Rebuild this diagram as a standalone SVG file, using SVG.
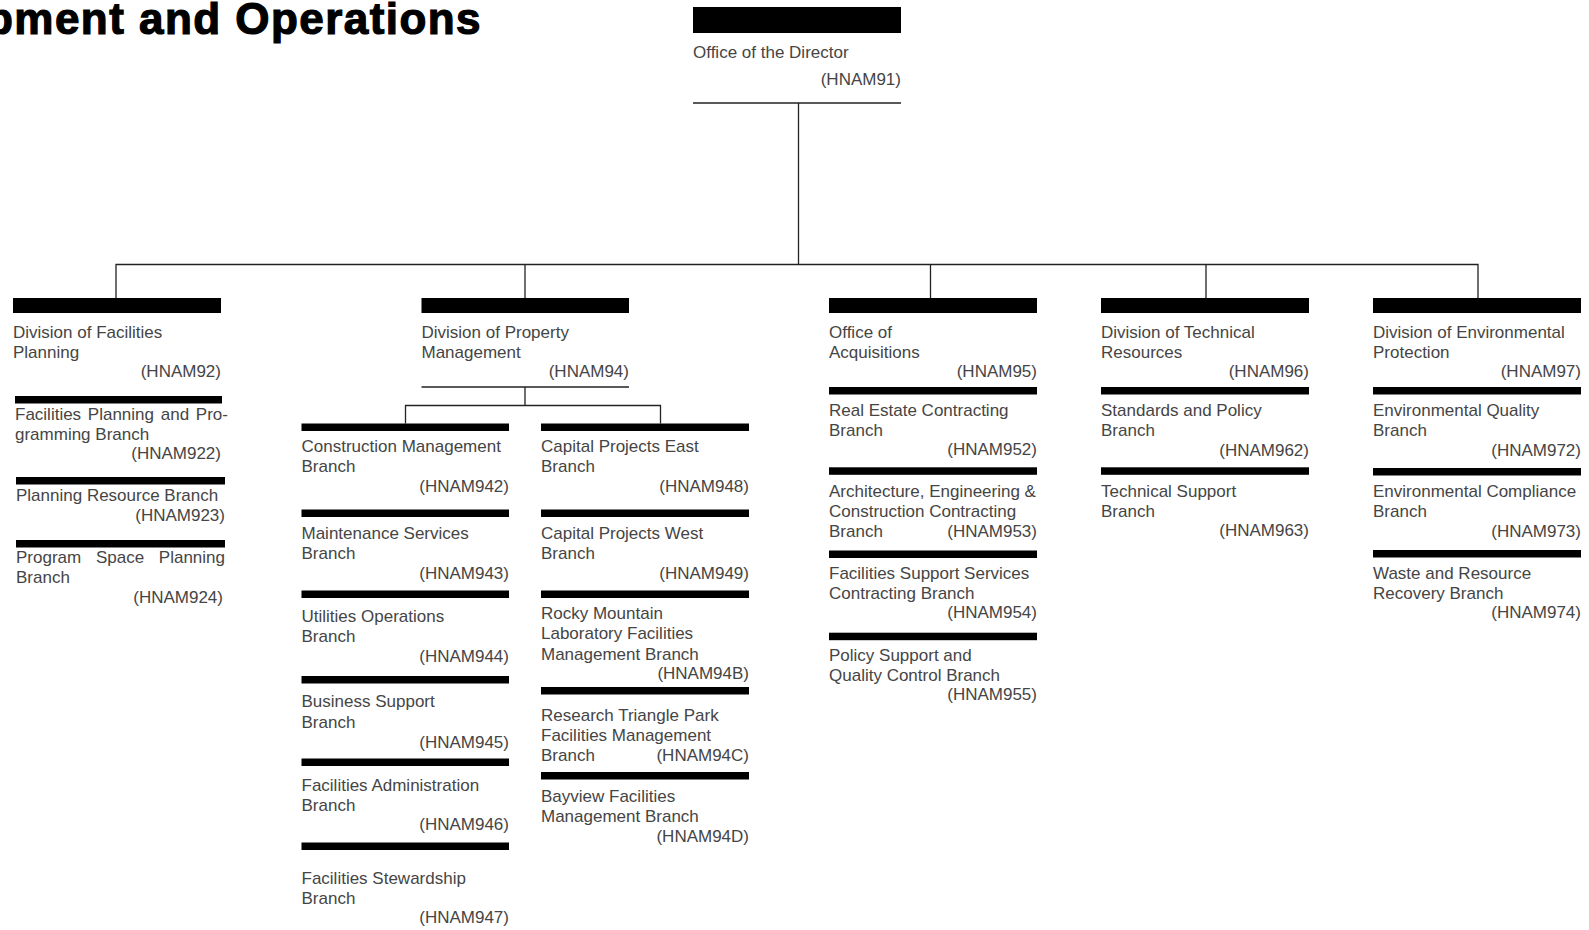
<svg xmlns="http://www.w3.org/2000/svg" width="1589" height="930" viewBox="0 0 1589 930">
<style>
.t{font-family:"Liberation Sans",Arial,sans-serif;font-size:17px;fill:#454545}
.c{text-anchor:end}
.bar{fill:#000}
.ln{stroke:#222;stroke-width:1.3;fill:none}
.title{font-family:"Liberation Sans",Arial,sans-serif;font-size:44px;font-weight:bold;fill:#000;stroke:#000;stroke-width:1.2;letter-spacing:1.45px}
</style>
<rect width="1589" height="930" fill="#fff"/>
<text class="title" x="482" y="34" text-anchor="end">pment and Operations</text>

<g id="connectors">
<path class="ln" d="M693 103H901"/>
<path class="ln" d="M798.5 103V264.5"/>
<path class="ln" d="M116 298V264.5H1478V298M525 264.5V298M930.5 264.5V298M1206 264.5V298"/>
<path class="ln" d="M421.5 387H629"/>
<path class="ln" d="M525 387V405.5M405.5 423.5V405.5H660.5V423.5"/>
</g>

<g id="director">
<rect class="bar" x="693" y="7" width="208" height="26"/>
<text class="t" x="693" y="58">Office of the Director</text>
<text class="t c" x="901" y="85">(HNAM91)</text>
</g>

<g id="hnam92">
<rect class="bar" x="13" y="298" width="208" height="15"/>
<text class="t" x="13" y="338">Division of Facilities</text>
<text class="t" x="13" y="358">Planning</text>
<text class="t c" x="221" y="377">(HNAM92)</text>
</g>
<g id="hnam922">
<rect class="bar" x="15" y="396" width="207" height="7.5"/>
<text class="t" x="15" y="420" word-spacing="2">Facilities Planning and Pro-</text>
<text class="t" x="15" y="440">gramming Branch</text>
<text class="t c" x="221" y="459">(HNAM922)</text>
</g>
<g id="hnam923">
<rect class="bar" x="16" y="477" width="209" height="7.5"/>
<text class="t" x="16" y="501">Planning Resource Branch</text>
<text class="t c" x="225" y="521">(HNAM923)</text>
</g>
<g id="hnam924">
<rect class="bar" x="16" y="540" width="209" height="7.5"/>
<text class="t" x="16" y="563" word-spacing="10">Program Space Planning</text>
<text class="t" x="16" y="583">Branch</text>
<text class="t c" x="223" y="603">(HNAM924)</text>
</g>

<g id="hnam94">
<rect class="bar" x="421.5" y="298" width="207.5" height="15"/>
<text class="t" x="421.5" y="338">Division of Property</text>
<text class="t" x="421.5" y="358">Management</text>
<text class="t c" x="629" y="377">(HNAM94)</text>
</g>
<g id="hnam942">
<rect class="bar" x="301.5" y="423.5" width="207.5" height="7.5"/>
<text class="t" x="301.5" y="452">Construction Management</text>
<text class="t" x="301.5" y="472">Branch</text>
<text class="t c" x="509" y="492">(HNAM942)</text>
</g>
<g id="hnam943">
<rect class="bar" x="301.5" y="509.5" width="207.5" height="7.5"/>
<text class="t" x="301.5" y="539">Maintenance Services</text>
<text class="t" x="301.5" y="559">Branch</text>
<text class="t c" x="509" y="578.5">(HNAM943)</text>
</g>
<g id="hnam944">
<rect class="bar" x="301.5" y="590.5" width="207.5" height="7.5"/>
<text class="t" x="301.5" y="622">Utilities Operations</text>
<text class="t" x="301.5" y="642">Branch</text>
<text class="t c" x="509" y="662">(HNAM944)</text>
</g>
<g id="hnam945">
<rect class="bar" x="301.5" y="676" width="207.5" height="7.5"/>
<text class="t" x="301.5" y="707">Business Support</text>
<text class="t" x="301.5" y="727.5">Branch</text>
<text class="t c" x="509" y="747.5">(HNAM945)</text>
</g>
<g id="hnam946">
<rect class="bar" x="301.5" y="758.5" width="207.5" height="7.5"/>
<text class="t" x="301.5" y="790.5">Facilities Administration</text>
<text class="t" x="301.5" y="810.5">Branch</text>
<text class="t c" x="509" y="830">(HNAM946)</text>
</g>
<g id="hnam947">
<rect class="bar" x="301.5" y="842.5" width="207.5" height="7.5"/>
<text class="t" x="301.5" y="883.5">Facilities Stewardship</text>
<text class="t" x="301.5" y="903.5">Branch</text>
<text class="t c" x="509" y="923">(HNAM947)</text>
</g>

<g id="hnam948">
<rect class="bar" x="541" y="423.5" width="208" height="7.5"/>
<text class="t" x="541" y="452">Capital Projects East</text>
<text class="t" x="541" y="472">Branch</text>
<text class="t c" x="749" y="492">(HNAM948)</text>
</g>
<g id="hnam949">
<rect class="bar" x="541" y="509.5" width="208" height="7.5"/>
<text class="t" x="541" y="539">Capital Projects West</text>
<text class="t" x="541" y="559">Branch</text>
<text class="t c" x="749" y="578.5">(HNAM949)</text>
</g>
<g id="hnam94b">
<rect class="bar" x="541" y="590.5" width="208" height="7.5"/>
<text class="t" x="541" y="619">Rocky Mountain</text>
<text class="t" x="541" y="639">Laboratory Facilities</text>
<text class="t" x="541" y="659.5">Management Branch</text>
<text class="t c" x="749" y="679">(HNAM94B)</text>
</g>
<g id="hnam94c">
<rect class="bar" x="541" y="687" width="208" height="7.5"/>
<text class="t" x="541" y="720.5">Research Triangle Park</text>
<text class="t" x="541" y="740.5">Facilities Management</text>
<text class="t" x="541" y="760.5">Branch</text>
<text class="t c" x="749" y="760.5">(HNAM94C)</text>
</g>
<g id="hnam94d">
<rect class="bar" x="541" y="772" width="208" height="7.5"/>
<text class="t" x="541" y="801.5">Bayview Facilities</text>
<text class="t" x="541" y="821.5">Management Branch</text>
<text class="t c" x="749" y="841.5">(HNAM94D)</text>
</g>

<g id="hnam95">
<rect class="bar" x="829" y="298" width="208" height="15"/>
<text class="t" x="829" y="338">Office of</text>
<text class="t" x="829" y="358">Acquisitions</text>
<text class="t c" x="1037" y="377">(HNAM95)</text>
</g>
<g id="hnam952">
<rect class="bar" x="829" y="387" width="208" height="7.5"/>
<text class="t" x="829" y="415.5">Real Estate Contracting</text>
<text class="t" x="829" y="435.5">Branch</text>
<text class="t c" x="1037" y="455">(HNAM952)</text>
</g>
<g id="hnam953">
<rect class="bar" x="829" y="467.3" width="208" height="7.5"/>
<text class="t" x="829" y="497">Architecture, Engineering &amp;</text>
<text class="t" x="829" y="517">Construction Contracting</text>
<text class="t" x="829" y="536.5">Branch</text>
<text class="t c" x="1037" y="536.5">(HNAM953)</text>
</g>
<g id="hnam954">
<rect class="bar" x="829" y="550.5" width="208" height="7.5"/>
<text class="t" x="829" y="578.5">Facilities Support Services</text>
<text class="t" x="829" y="598.5">Contracting Branch</text>
<text class="t c" x="1037" y="617.5">(HNAM954)</text>
</g>
<g id="hnam955">
<rect class="bar" x="829" y="632.7" width="208" height="7.5"/>
<text class="t" x="829" y="660.5">Policy Support and</text>
<text class="t" x="829" y="680.5">Quality Control Branch</text>
<text class="t c" x="1037" y="699.5">(HNAM955)</text>
</g>

<g id="hnam96">
<rect class="bar" x="1101" y="298" width="208" height="15"/>
<text class="t" x="1101" y="338">Division of Technical</text>
<text class="t" x="1101" y="358">Resources</text>
<text class="t c" x="1309" y="377">(HNAM96)</text>
</g>
<g id="hnam962">
<rect class="bar" x="1101" y="387" width="208" height="7.5"/>
<text class="t" x="1101" y="415.5">Standards and Policy</text>
<text class="t" x="1101" y="435.5">Branch</text>
<text class="t c" x="1309" y="455.5">(HNAM962)</text>
</g>
<g id="hnam963">
<rect class="bar" x="1101" y="467.3" width="208" height="7.5"/>
<text class="t" x="1101" y="496.5">Technical Support</text>
<text class="t" x="1101" y="516.5">Branch</text>
<text class="t c" x="1309" y="536">(HNAM963)</text>
</g>

<g id="hnam97">
<rect class="bar" x="1373" y="298" width="208" height="15"/>
<text class="t" x="1373" y="338">Division of Environmental</text>
<text class="t" x="1373" y="358">Protection</text>
<text class="t c" x="1581" y="377">(HNAM97)</text>
</g>
<g id="hnam972">
<rect class="bar" x="1373" y="387" width="208" height="7.5"/>
<text class="t" x="1373" y="415.5">Environmental Quality</text>
<text class="t" x="1373" y="435.5">Branch</text>
<text class="t c" x="1581" y="455.5">(HNAM972)</text>
</g>
<g id="hnam973">
<rect class="bar" x="1373" y="468" width="208" height="7.5"/>
<text class="t" x="1373" y="497">Environmental Compliance</text>
<text class="t" x="1373" y="517">Branch</text>
<text class="t c" x="1581" y="536.5">(HNAM973)</text>
</g>
<g id="hnam974">
<rect class="bar" x="1373" y="550" width="208" height="7.5"/>
<text class="t" x="1373" y="578.5">Waste and Resource</text>
<text class="t" x="1373" y="598.5">Recovery Branch</text>
<text class="t c" x="1581" y="617.5">(HNAM974)</text>
</g>
</svg>
